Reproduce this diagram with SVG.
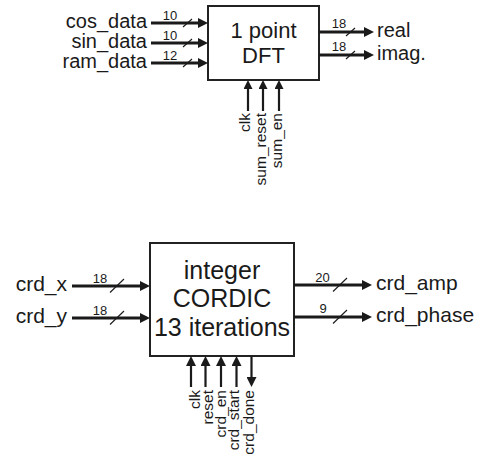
<svg xmlns="http://www.w3.org/2000/svg" width="480" height="463" viewBox="0 0 480 463">
<style>
text{font-family:"Liberation Sans",Arial,sans-serif;fill:#1a1a1a}
.lbl{font-size:20px}
.lbl2{font-size:21px}
.num{font-size:13px;text-anchor:middle}
.ctl{font-size:15.5px;text-anchor:end}
.box{fill:#fff;stroke:#222;stroke-width:2}
.bus{stroke:#1a1a1a;stroke-width:3;fill:none}
.sig{stroke:#1a1a1a;stroke-width:2.2;fill:none}
.sl{stroke:#1a1a1a;stroke-width:1.1}
</style>
<defs>
<marker id="ah" viewBox="0 0 10 10" refX="0" refY="5" markerWidth="10" markerHeight="10" markerUnits="userSpaceOnUse" orient="auto"><path d="M0,0 L10,5 L0,10 z" fill="#1a1a1a"/></marker>
<marker id="as" viewBox="0 0 9 9" refX="0" refY="4.5" markerWidth="9" markerHeight="9" markerUnits="userSpaceOnUse" orient="auto"><path d="M0,0 L9,4.5 L0,9 z" fill="#1a1a1a"/></marker>
</defs>
<g id="dft">
<rect class="box" x="208" y="6" width="111" height="74"/>
<text x="263.5" y="38" font-size="22" text-anchor="middle">1 point</text>
<text x="263.5" y="63" font-size="22" text-anchor="middle">DFT</text>
</g>
<g id="cordic">
<rect class="box" x="150" y="243" width="144" height="113"/>
<text x="222" y="279" font-size="25" text-anchor="middle">integer</text>
<text x="222" y="307" font-size="25" text-anchor="middle">CORDIC</text>
<text x="222" y="336" font-size="25" text-anchor="middle">13 iterations</text>
</g>
<g id="connectors">
<line class="bus" x1="151" y1="23" x2="198" y2="23" marker-end="url(#ah)"/>
<line class="bus" x1="151" y1="43" x2="198" y2="43" marker-end="url(#ah)"/>
<line class="bus" x1="151" y1="63" x2="198" y2="63" marker-end="url(#ah)"/>
<line class="sl" x1="183" y1="27" x2="192" y2="19"/>
<line class="sl" x1="183" y1="47" x2="192" y2="39"/>
<line class="sl" x1="183" y1="67" x2="192" y2="59"/>
<line class="bus" x1="319" y1="32" x2="364" y2="32" marker-end="url(#ah)"/>
<line class="bus" x1="319" y1="55" x2="364" y2="55" marker-end="url(#ah)"/>
<line class="sl" x1="346" y1="36" x2="355" y2="28"/>
<line class="sl" x1="346" y1="59" x2="355" y2="51"/>
<line class="sig" x1="248" y1="111" x2="248" y2="89" marker-end="url(#as)"/>
<line class="sig" x1="263" y1="111" x2="263" y2="89" marker-end="url(#as)"/>
<line class="sig" x1="279" y1="111" x2="279" y2="89" marker-end="url(#as)"/>
<line class="bus" x1="72" y1="286" x2="140" y2="286" marker-end="url(#ah)"/>
<line class="bus" x1="72" y1="318" x2="140" y2="318" marker-end="url(#ah)"/>
<line class="sl" x1="110" y1="292.5" x2="124" y2="279"/>
<line class="sl" x1="110" y1="324.5" x2="124" y2="311"/>
<line class="bus" x1="294" y1="285" x2="362" y2="285" marker-end="url(#ah)"/>
<line class="bus" x1="294" y1="317" x2="362" y2="317" marker-end="url(#ah)"/>
<line class="sl" x1="333" y1="291.5" x2="347" y2="278"/>
<line class="sl" x1="333" y1="323.5" x2="347" y2="310"/>
<line class="sig" x1="191" y1="387" x2="191" y2="366" marker-end="url(#ah)"/>
<line class="sig" x1="205.5" y1="387" x2="205.5" y2="366" marker-end="url(#ah)"/>
<line class="sig" x1="221" y1="387" x2="221" y2="366" marker-end="url(#ah)"/>
<line class="sig" x1="236.5" y1="387" x2="236.5" y2="366" marker-end="url(#ah)"/>
<line class="sig" x1="251.5" y1="356" x2="251.5" y2="377" marker-end="url(#ah)"/>
</g>
<g id="labels">
<text class="lbl" x="147" y="28" text-anchor="end">cos_data</text>
<text class="lbl" x="147" y="48" text-anchor="end">sin_data</text>
<text class="lbl" x="147" y="68" text-anchor="end">ram_data</text>
<text class="num" x="170" y="20">10</text>
<text class="num" x="170" y="40">10</text>
<text class="num" x="170" y="60">12</text>
<text class="lbl" x="377" y="37">real</text>
<text class="lbl" x="377" y="60">imag.</text>
<text class="num" x="339" y="28">18</text>
<text class="num" x="339" y="51">18</text>
<text class="ctl" transform="translate(250,113) rotate(-90)">clk</text>
<text class="ctl" transform="translate(266,113) rotate(-90)">sum_reset</text>
<text class="ctl" transform="translate(282,113) rotate(-90)">sum_en</text>
<text class="lbl2" x="67" y="291" text-anchor="end">crd_x</text>
<text class="lbl2" x="67" y="323" text-anchor="end">crd_y</text>
<text class="num" x="100" y="283">18</text>
<text class="num" x="100" y="315">18</text>
<text class="lbl2" x="376" y="290">crd_amp</text>
<text class="lbl2" x="376" y="322">crd_phase</text>
<text class="num" x="322.5" y="282">20</text>
<text class="num" x="323" y="313">9</text>
<text class="ctl" transform="translate(200,390) rotate(-90)">clk</text>
<text class="ctl" transform="translate(213,390) rotate(-90)">reset</text>
<text class="ctl" transform="translate(226,390) rotate(-90)">crd_en</text>
<text class="ctl" transform="translate(239,390) rotate(-90)">crd_start</text>
<text class="ctl" transform="translate(254,390) rotate(-90)">crd_done</text>
</g>
</svg>
